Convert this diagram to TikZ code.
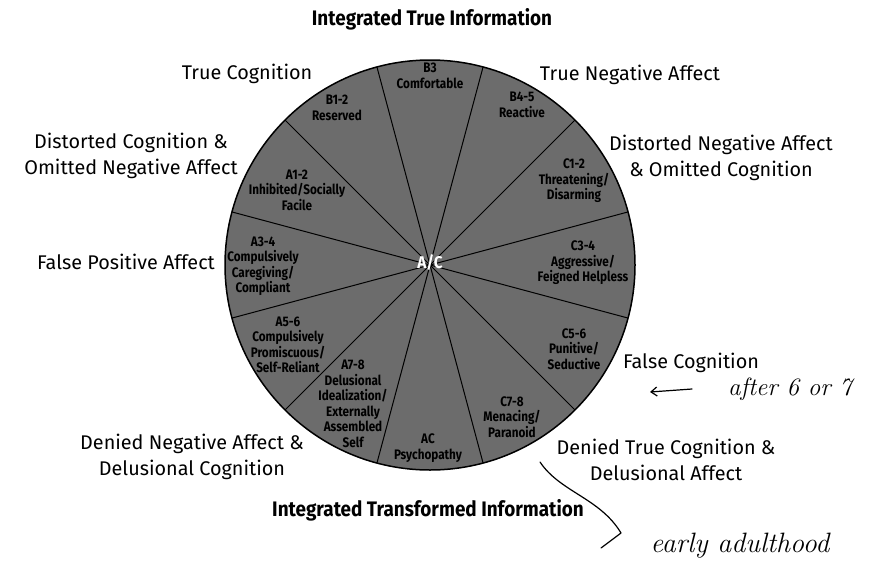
\documentclass[tikz,border=0pt]{standalone}
\usepackage{fontspec}
\setsansfont{Fira Sans}
\newfontfamily\titlefont[FakeStretch=0.9]{Fira Sans}
\newfontfamily\segfont[FakeStretch=0.85]{Fira Sans}
\usetikzlibrary{calc,arrows.meta}
\definecolor{halftone}{RGB}{108,108,108}
\begin{document}
\begin{tikzpicture}[x=1pt,y=-1pt,
  outer/.style={font=\sffamily\fontsize{19.8}{26}\selectfont, align=center, inner sep=0pt},
  titletext/.style={font=\titlefont\bfseries\fontsize{21}{24}\selectfont, inner sep=0pt},
  seg/.style={font=\segfont\bfseries\fontsize{13.8}{15.5}\selectfont, align=center, inner sep=0pt, text=black},
  spoke/.style={line width=1pt},
  hand/.style={font=\rmfamily\itshape\fontsize{25}{28}\selectfont, inner sep=0pt},
  handline/.style={line width=1.2pt, line cap=round, line join=round}
]
\useasboundingbox (0,0) rectangle (872,584);
\fill[white] (0,0) rectangle (872,584);

\coordinate (c) at (430,265);
\fill[halftone] (c) circle (205);
\foreach \a [count=\i] in {15,45,...,345}{
  \coordinate (r\i) at ($(c)+(\a:205)$);
  \draw[spoke] (c) -- (r\i);
}
\draw[line width=1.5pt] (c) circle (205);

% segment labels
\node[seg] (b3)  at (430,76)  {B3\\Comfortable};
\node[seg] (b45) at (522,105) {B4-5\\Reactive};
\node[seg] (c12) at (574,181) {C1-2\\Threatening/\\Disarming};
\node[seg] (c34) at (583,263) {C3-4\\Aggressive/\\Feigned Helpless};
\node[seg] (c56) at (574,349) {C5-6\\Punitive/\\Seductive};
\node[seg] (c78) at (512,417) {C7-8\\Menacing/\\Paranoid};
\node[seg] (ac)  at (428,448) {AC\\Psychopathy};
\node[seg] (a78) at (353,404) {A7-8\\Delusional\\Idealization/\\Externally\\Assembled\\Self};
\node[seg] (a56) at (288,345) {A5-6\\Compulsively\\Promiscuous/\\Self-Reliant};
\node[seg] (a34) at (263,266) {A3-4\\Compulsively\\Caregiving/\\Compliant};
\node[seg] (a12) at (297,190) {A1-2\\Inhibited/Socially\\Facile};
\node[seg] (b12) at (337,108) {B1-2\\Reserved};
\node[font=\titlefont\bfseries\fontsize{17}{18}\selectfont, text=white, inner sep=0pt] (center) at (430,263) {A/C};

% outer labels
\node[titletext] (top) at (432,19) {Integrated True Information};
\node[titletext] (bottom) at (428,510) {Integrated Transformed Information};
\node[outer] (tc)  at (247,74)  {True Cognition};
\node[outer] (tna) at (630,75)  {True Negative Affect};
\node[outer] (dc)  at (131,156) {Distorted Cognition \&\\Omitted Negative Affect};
\node[outer] (dna) at (721,158) {Distorted Negative Affect\\\& Omitted Cognition};
\node[outer] (fpa) at (126,262) {False Positive Affect};
\node[outer] (fc)  at (691,363) {False Cognition};
\node[outer] (dtc) at (666,460) {Denied True Cognition \&\\Delusional Affect};
\node[outer] (dna2) at (192,457) {Denied Negative Affect \&\\Delusional Cognition};

% handwritten notes
\node[hand] (after) at (790,389) {after 6 or 7};
\coordinate (arrtail) at (692,389);
\coordinate (arrhead) at (650,392);
\draw[handline, -{Straight Barb[length=6pt,width=9pt]}] (arrtail) -- (arrhead);
\node[hand, font=\rmfamily\itshape\fontsize{28}{30}\selectfont] (early) at (740,546) {early adulthood};
\coordinate (ctail) at (540,462);
\coordinate (ctip) at (621,533);
\coordinate (cend) at (601,548);
\draw[handline] (ctail) .. controls (560,492) and (600,498) .. (ctip) -- (cend);
\end{tikzpicture}
\end{document}
